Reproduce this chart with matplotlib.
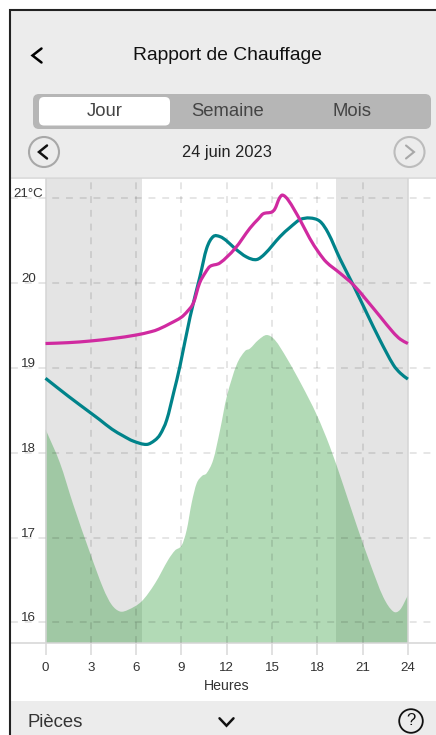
import matplotlib
matplotlib.use("Agg")
import matplotlib.pyplot as plt
from matplotlib.patches import Rectangle, FancyBboxPatch, Circle, PathPatch
from matplotlib.path import Path
from matplotlib.transforms import ScaledTranslation

plt.rcParams['font.family'] = ['Liberation Sans', 'DejaVu Sans']

W, H = 436, 735

# --- data ---
magenta_h = [0, 1.5, 3, 4.5, 6, 7, 7.5, 8.3, 9, 9.4, 9.8, 10.2, 10.6, 10.9, 11.55, 12.55, 13.54, 14.1, 14.42, 14.98,
             15.2, 15.48, 15.7, 16.08, 16.85, 17.5, 18.07, 18.6, 19.5, 20.4, 21.27, 22.15, 23.03, 23.5, 24]
magenta_t = [19.29, 19.3, 19.32, 19.35, 19.39, 19.43, 19.46, 19.53, 19.6, 19.67, 19.77, 20.0, 20.13, 20.2, 20.24, 20.41, 20.65, 20.76, 20.82, 20.84,
             20.88, 21.0, 21.04, 20.98, 20.75, 20.53, 20.37, 20.25, 20.12, 19.98, 19.8, 19.61, 19.42, 19.34, 19.29]

teal_h = [0, 1.5, 3, 3.6, 4.4, 5.15, 5.8, 6.7, 7.25, 7.6, 8.03, 8.5, 8.9, 9.57, 10.23, 10.67, 11.1, 11.56, 12.0, 12.55, 13.32, 13.98, 14.54,
          15.53, 16.2, 16.85, 17.5, 18.18, 18.73, 19.5, 20.38, 21.27, 22.15, 23.03, 23.5, 24]
teal_t = [18.88, 18.67, 18.47, 18.39, 18.28, 18.2, 18.14, 18.1, 18.15, 18.22, 18.39, 18.72, 19.02, 19.6, 20.08, 20.41, 20.55, 20.55, 20.5, 20.41, 20.31, 20.28, 20.35,
          20.55, 20.66, 20.75, 20.77, 20.73, 20.59, 20.29, 19.98, 19.65, 19.33, 19.04, 18.94, 18.87]

green_h = [0, 0.96, 1.84, 2.95, 3.83, 4.38, 4.93, 5.48, 6.37, 7.25, 8.13, 8.58, 9.02, 9.35, 9.68, 10.01, 10.38, 10.67, 11.11, 11.56, 12.0, 12.66, 13.21,
           13.54, 14.09, 14.65, 15.2, 15.97, 16.97, 17.96, 18.84, 19.72, 20.6, 21.49, 22.37, 23.03, 23.48, 24]
green_t = [18.28, 17.88, 17.39, 16.82, 16.40, 16.21, 16.13, 16.15, 16.25, 16.46, 16.74, 16.85, 16.91, 17.09, 17.41, 17.64, 17.73, 17.76, 17.92, 18.27, 18.66, 19.04, 19.2,
           19.23, 19.33, 19.39, 19.33, 19.12, 18.80, 18.45, 18.07, 17.62, 17.15, 16.70, 16.30, 16.13, 16.15, 16.32]

night_bands = [(0, 6.37), (19.27, 24)]
hour_ticks = [0, 3, 6, 9, 12, 15, 18, 21, 24]
temp_ticks = [16, 17, 18, 19, 20, 21]
temp_labels = ['16', '17', '18', '19', '20', '21°C']
tabs = ['Jour', 'Semaine', 'Mois']


def smooth_path(xs, ys, floor=None):
    """Bezier path through the read points (the curve passes through each of them)."""
    n = len(xs)
    slope = []
    for i in range(n):
        a, b = max(i - 1, 0), min(i + 1, n - 1)
        slope.append((ys[b] - ys[a]) / (xs[b] - xs[a]))
    verts, codes = [(xs[0], ys[0])], [Path.MOVETO]
    for i in range(n - 1):
        d = (xs[i + 1] - xs[i]) / 3
        verts += [(xs[i] + d, ys[i] + slope[i] * d),
                  (xs[i + 1] - d, ys[i + 1] - slope[i + 1] * d),
                  (xs[i + 1], ys[i + 1])]
        codes += [Path.CURVE4] * 3
    if floor is not None:
        verts += [(xs[-1], floor), (xs[0], floor), (xs[0], ys[0])]
        codes += [Path.LINETO, Path.LINETO, Path.CLOSEPOLY]
    return Path(verts, codes)


fig = plt.figure(figsize=(W / 100, H / 100), dpi=100, facecolor='white')

# chart axes: px box 11..436 x 178..643
ax = fig.add_axes([11 / W, 1 - 643 / H, (436 - 11) / W, (643 - 178) / H])
x0, pxh = 45.5, 15.1
y21, pxt = 198.5, 84.8
ax.set_xlim((11 - x0) / pxh, (436 - x0) / pxh)
ax.set_ylim(21 - (643 - y21) / pxt, 21 - (178 - y21) / pxt)

for a, b in night_bands:
    ax.axvspan(a, b, color='#e4e4e4', lw=0, zorder=1)
ax.add_patch(PathPatch(smooth_path(green_h, green_t, ax.get_ylim()[0]), fc=(22 / 255, 143 / 255, 36 / 255),
                       alpha=0.33, lw=0, zorder=2))
ax.add_patch(PathPatch(smooth_path(teal_h, teal_t), fc='none', ec='#00838a', lw=2.3, zorder=5, capstyle='butt'))
ax.add_patch(PathPatch(smooth_path(magenta_h, magenta_t), fc='none', ec='#d02aa0', lw=2.3, zorder=6, capstyle='butt'))

ax.set_axisbelow(False)
ax.set_xticks(hour_ticks)
ax.set_yticks(temp_ticks)
ax.set_xticklabels([str(h) for h in hour_ticks])
ax.set_yticklabels(temp_labels)
ax.grid(True, color='black', alpha=0.13, lw=1.1, linestyle=(0, (4.5, 4.5)), zorder=3)
for i in (0, len(hour_ticks) - 1):
    gl = ax.get_xgridlines()[i]
    gl.set_linestyle('-')
    gl.set_color('#d5d5d5')
    gl.set_alpha(1)
ax.tick_params(axis='x', length=8.5, width=1.1, color='#d8d8d8', labelsize=9.6, labelcolor='#333333', pad=5)
ax.tick_params(axis='y', length=0, labelsize=9.6, labelcolor='#333333', pad=-12.5)
shift = ScaledTranslation(0, -2 / 100, fig.dpi_scale_trans)
for lab in ax.get_yticklabels():
    lab.set_ha('center')
    lab.set_va('bottom')
    lab.set_transform(lab.get_transform() + shift)
ax.set_xlabel('Heures', fontsize=10.2, color='#333333')
ax.xaxis.set_label_coords((227 - 11) / (436 - 11), -(679 - 643) / (643 - 178), ax.transAxes)
for s in ('left', 'right'):
    ax.spines[s].set_visible(False)
for s in ('top', 'bottom'):
    ax.spines[s].set_color('#d5d5d5')
    ax.spines[s].set_linewidth(1.1)

# UI overlay in pixel coordinates
ui = fig.add_axes([0, 0, 1, 1], facecolor='none', zorder=10)
ui.set_xlim(0, W)
ui.set_ylim(H, 0)
ui.axis('off')

ui.add_patch(Rectangle((11, 11), W - 11, 166, fc='#ececec', ec='none', zorder=0))
ui.add_patch(Rectangle((11, 701), W - 11, 34, fc='#ececec', ec='none', zorder=0))
ui.plot([10, 10, W], [H, 10, 10], color='#222222', lw=1.5, solid_joinstyle='miter', zorder=1)


def chevron(cx, cy, dx, dy, color, lw=1.7, horizontal=True):
    if horizontal:
        xs, ys = [cx + dx, cx - dx, cx + dx], [cy - dy, cy, cy + dy]
    else:
        xs, ys = [cx - dx, cx, cx + dx], [cy - dy, cy + dy, cy - dy]
    ui.plot(xs, ys, color=color, lw=lw, solid_capstyle='round', solid_joinstyle='miter', zorder=3)


chevron(37, 55.5, 4.5, 7, 'black', 1.8)
ui.text(227, 55, 'Rapport de Chauffage', ha='center', va='center', fontsize=13.9, color='#111111')

ui.add_patch(FancyBboxPatch((33, 94), 398, 35, boxstyle='round,pad=0,rounding_size=6', fc='#b6b6b6', ec='none', zorder=1))
ui.add_patch(FancyBboxPatch((39, 97), 131, 28.5, boxstyle='round,pad=0,rounding_size=5', fc='white', ec='none', zorder=2))
for name, cx in zip(tabs, [104.5, 228, 351.5]):
    ui.text(cx, 111, name, ha='center', va='center', fontsize=13.3, color='#444444', zorder=3)

ui.add_patch(Circle((44, 152), 15, fc='none', ec='#a8a8a8', lw=1.5, zorder=2))
chevron(43, 152, 4, 6.5, '#111111', 1.8)
ui.add_patch(Circle((409.5, 152), 15, fc='none', ec='#bcbcbc', lw=1.5, zorder=2))
chevron(410, 152, -4, 6.5, '#a8a8a8', 1.5)
ui.text(226.5, 152.5, '24 juin 2023', ha='center', va='center', fontsize=11.8, color='#222222')

ui.text(27.5, 722.5, 'Pièces', ha='left', va='center', fontsize=13.3, color='#333333')
chevron(226.5, 722, 7, 3.7, '#111111', 1.8, horizontal=False)
ui.add_patch(Circle((411, 721), 11.8, fc='none', ec='#111111', lw=1.3, zorder=2))
ui.text(411, 720.5, '?', ha='center', va='center', fontsize=12, color='#111111')

fig.savefig('out.png', dpi=100)
